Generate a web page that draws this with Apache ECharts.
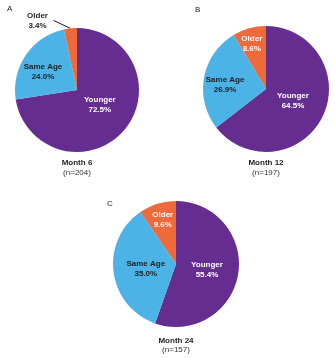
<!DOCTYPE html>
<html>
<head>
<meta charset="utf-8">
<script src="https://cdn.jsdelivr.net/npm/echarts@6/dist/echarts.min.js"></script>
<style>
  html, body { margin: 0; padding: 0; background: #fff; }
  #chart { width: 335px; height: 358px; }
</style>
</head>
<body>
<div id="chart"></div>
<script>
// Age of the play partner, share of children (%) at each follow-up visit
const categories = ['Younger', 'Same Age', 'Older'];
const month6 = [72.5, 24.0, 3.4];
const month12 = [64.5, 26.9, 8.6];
const month24 = [55.4, 35.0, 9.6];
const panelLetters = ['A', 'B', 'C'];
const panelTitles = ['Month 6', 'Month 12', 'Month 24'];
const sampleSizes = ['(n=204)', '(n=197)', '(n=157)'];

const colors = ['#652d8f', '#4cb3e6', '#ee6a3a'];
const labelColors = ['#ffffff', '#1e1e1e', '#ffffff'];

// pie placement, in pixels
const panels = [
  { cx: 77, cy: 90, r: 62, letter: [7, 5], titleY: 163, nY: 173 },
  { cx: 266, cy: 89, r: 63, letter: [195, 6], titleY: 163, nY: 173 },
  { cx: 176, cy: 264, r: 63, letter: [107, 200], titleY: 341, nY: 350 }
];
// small nudges [dx, dy] of the inside labels away from the default mid-radius spot
const labelNudge = [
  [[-3, -7], [-6, 1.5], null],
  [[-4, -3], [-7, 2], [-5, -12]],
  [[-3, 0], [4, 0], [-3, -11]]
];

const allValues = [month6, month12, month24];

const series = allValues.map((vals, s) => ({
  type: 'pie',
  center: [panels[s].cx, panels[s].cy],
  radius: panels[s].r,
  startAngle: 90,
  clockwise: true,
  silent: true,
  animation: false,
  label: {
    show: true,
    position: 'inside',
    formatter: p => p.name + '\n' + p.value.toFixed(1) + '%',
    fontFamily: 'Liberation Sans, Arial, sans-serif',
    fontWeight: 'bold',
    fontSize: 8,
    lineHeight: 10
  },
  labelLine: { show: false },
  labelLayout: function (params) {
    const n = labelNudge[s][params.dataIndex];
    if (!n) return;
    return { dx: n[0], dy: n[1] };
  },
  data: vals.map((v, i) => {
    const outside = s === 0 && i === 2;
    return {
      name: categories[i],
      value: v,
      itemStyle: { color: colors[i] },
      label: outside
        ? {
            position: 'outside', color: '#1e1e1e', align: 'center',
            distanceToLabelLine: 1, padding: [0, 0, 0, 0], width: 30,
            formatter: p => '{c|' + p.name + '}\n{c|' + p.value.toFixed(1) + '%}',
            rich: { c: { align: 'center', width: 30, fontWeight: 'bold', fontSize: 8, lineHeight: 10, color: '#1e1e1e' } }
          }
        : { color: labelColors[i] },
      // leader line straightened into one diagonal stroke
      labelLine: outside
        ? { show: true, length: 8, length2: 16, minTurnAngle: 179, lineStyle: { color: '#1e1e1e', width: 1 } }
        : { show: false }
    };
  })
}));

const graphic = [];
panels.forEach((p, s) => {
  graphic.push({
    type: 'text', left: p.letter[0], top: p.letter[1],
    style: { text: panelLetters[s], font: '8px Liberation Sans, Arial, sans-serif', fill: '#222' }
  });
  graphic.push({
    type: 'text', x: p.cx, y: p.titleY,
    style: {
      text: panelTitles[s], align: 'center', verticalAlign: 'middle',
      font: 'bold 8px Liberation Sans, Arial, sans-serif', fill: '#1e1e1e'
    }
  });
  graphic.push({
    type: 'text', x: p.cx, y: p.nY,
    style: {
      text: sampleSizes[s], align: 'center', verticalAlign: 'middle',
      font: '8px Liberation Sans, Arial, sans-serif', fill: '#333'
    }
  });
});

const chart = echarts.init(document.getElementById('chart'), null, { renderer: 'canvas' });
chart.setOption({
  backgroundColor: '#fff',
  animation: false,
  series: series,
  graphic: graphic
});
</script>
</body>
</html>
